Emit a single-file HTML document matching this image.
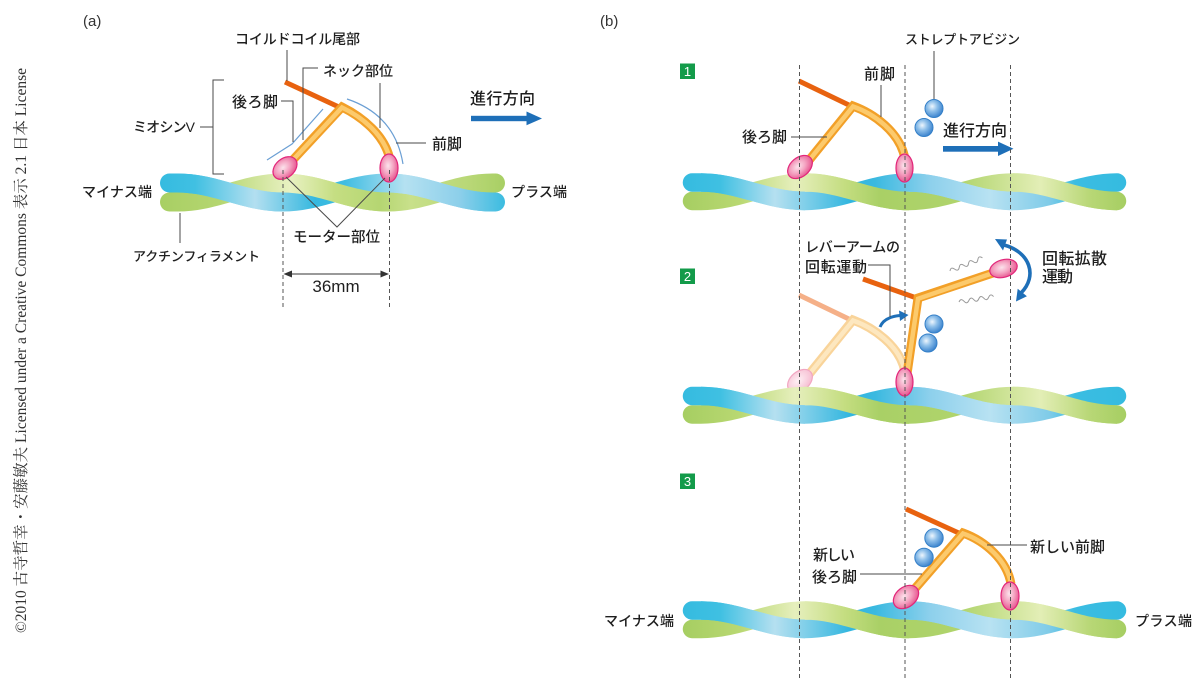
<!DOCTYPE html>
<html><head><meta charset="utf-8">
<style>
html,body{margin:0;padding:0;background:#fff;}
body{width:1200px;height:695px;overflow:hidden;}
svg{display:block;}
text{font-family:"Liberation Sans","Noto Sans CJK JP",sans-serif;fill:#1e1e1e;font-weight:500;}
.ld{stroke:#4a4a4a;stroke-width:1;fill:none;}
.ds{stroke:#555;stroke-width:1;stroke-dasharray:4 3;fill:none;}
.tail{stroke:#e8620f;stroke-width:5;fill:none;}
.armo{stroke:#f2a028;stroke-width:9;fill:none;stroke-linejoin:miter;stroke-miterlimit:10;}
.armi{stroke:#fcca6c;stroke-width:4.5;fill:none;stroke-linejoin:miter;stroke-miterlimit:10;}
.farmo{stroke:#f9d49a;stroke-width:9;fill:none;stroke-linejoin:miter;stroke-miterlimit:10;}
.farmi{stroke:#fde7bf;stroke-width:4.5;fill:none;stroke-linejoin:miter;stroke-miterlimit:10;}
.head{fill:url(#hg);stroke:#e2267a;stroke-width:1.2;}
.fhead{fill:url(#fhg);stroke:#f2a6c2;stroke-width:1.2;}
.ball{fill:url(#bg);stroke:#3580c8;stroke-width:1;}
.fb{fill:none;stroke:url(#blueB);stroke-width:18.5;stroke-linecap:round;}
.fg{fill:none;stroke:url(#greenB);stroke-width:18.5;stroke-linecap:round;}
.fbo{fill:none;stroke:url(#blueB);stroke-width:18.5;stroke-linecap:butt;}
.fgo{fill:none;stroke:url(#greenB);stroke-width:18.5;stroke-linecap:butt;}
.nl{stroke:#6b9fd4;stroke-width:1.2;fill:none;}
</style></head><body>
<svg width="1200" height="695" viewBox="0 0 1200 695" xmlns="http://www.w3.org/2000/svg">
<defs>
  <linearGradient id="blueB" gradientUnits="userSpaceOnUse" x1="683" y1="0" x2="1126" y2="0">
    <stop offset="0" stop-color="#35bbe0"/>
    <stop offset="0.0835" stop-color="#3fc0e2"/>
    <stop offset="0.2077" stop-color="#b5e0f0"/>
    <stop offset="0.377" stop-color="#32b6df"/>
    <stop offset="0.433" stop-color="#3ab9e0"/>
    <stop offset="0.5576" stop-color="#8dd0ec"/>
    <stop offset="0.693" stop-color="#b8e2f2"/>
    <stop offset="0.828" stop-color="#7fcbe8"/>
    <stop offset="0.885" stop-color="#3bbde2"/>
    <stop offset="1" stop-color="#35bbe0"/>
  </linearGradient>
  <linearGradient id="greenB" gradientUnits="userSpaceOnUse" x1="683" y1="0" x2="1126" y2="0">
    <stop offset="0" stop-color="#a6ce62"/>
    <stop offset="0.1287" stop-color="#b9d872"/>
    <stop offset="0.2528" stop-color="#e6efbd"/>
    <stop offset="0.3657" stop-color="#c4dd80"/>
    <stop offset="0.4447" stop-color="#a9d066"/>
    <stop offset="0.6253" stop-color="#b0d46c"/>
    <stop offset="0.8059" stop-color="#e3eeb6"/>
    <stop offset="0.9187" stop-color="#b8d776"/>
    <stop offset="1" stop-color="#a6ce62"/>
  </linearGradient>
  <linearGradient id="blueA" gradientUnits="userSpaceOnUse" x1="160" y1="0" x2="505" y2="0">
    <stop offset="0" stop-color="#35bbe0"/>
    <stop offset="0.101" stop-color="#40c0e2"/>
    <stop offset="0.275" stop-color="#b3dff0"/>
    <stop offset="0.449" stop-color="#35b8df"/>
    <stop offset="0.536" stop-color="#40bde2"/>
    <stop offset="0.71" stop-color="#b5e1f1"/>
    <stop offset="0.87" stop-color="#8ccfea"/>
    <stop offset="1" stop-color="#3bbce0"/>
  </linearGradient>
  <linearGradient id="greenA" gradientUnits="userSpaceOnUse" x1="160" y1="0" x2="505" y2="0">
    <stop offset="0" stop-color="#a8cf64"/>
    <stop offset="0.174" stop-color="#b5d670"/>
    <stop offset="0.377" stop-color="#e8f1c2"/>
    <stop offset="0.507" stop-color="#c5de82"/>
    <stop offset="0.638" stop-color="#b5d672"/>
    <stop offset="0.725" stop-color="#c8e08a"/>
    <stop offset="0.899" stop-color="#b8d776"/>
    <stop offset="1" stop-color="#a8cf64"/>
  </linearGradient>
  <radialGradient id="hg" cx="0.45" cy="0.42" r="0.6">
    <stop offset="0" stop-color="#fce3ec"/>
    <stop offset="0.5" stop-color="#f4a3c1"/>
    <stop offset="1" stop-color="#e6538e"/>
  </radialGradient>
  <radialGradient id="fhg" cx="0.45" cy="0.42" r="0.6">
    <stop offset="0" stop-color="#fef1f5"/>
    <stop offset="1" stop-color="#f6bcd1"/>
  </radialGradient>
  <radialGradient id="bg" cx="0.4" cy="0.38" r="0.62">
    <stop offset="0" stop-color="#eef6fd"/>
    <stop offset="0.45" stop-color="#8fc0ea"/>
    <stop offset="1" stop-color="#3f86cf"/>
  </radialGradient>
</defs>

<!-- copyright vertical text -->
<text transform="translate(26,633) rotate(-90)" style="font-family:'Liberation Serif','Noto Serif CJK SC',serif;fill:#333;font-weight:400" font-size="15.5" textLength="565" lengthAdjust="spacingAndGlyphs">©2010 古寺哲幸・安藤敏夫 Licensed under a Creative Commons 表示 2.1 日本 License</text>

<!-- ================= PANEL (a) ================= -->
<text x="83" y="26" font-size="15" style="fill:#333;font-weight:400">(a)</text>

<!-- filament a -->
<g fill="none" stroke-width="19">
<path d="M169.5,202 L177.5,202 C215.7,202 244.3,183 282.5,183 C320.7,183 349.3,202 387.5,202 C425.7,202 454.3,183 492.5,183 L495.5,183" stroke="url(#greenA)" stroke-linecap="round"/>
<path d="M169.5,183 L177.5,183 C215.7,183 244.3,202 282.5,202 C320.7,202 349.3,183 387.5,183 C425.7,183 454.3,202 492.5,202 L495.5,202" stroke="url(#blueA)" stroke-linecap="round"/>
<path d="M177.5,183 C215.7,183 244.3,202 282.5,202" stroke="url(#blueA)" stroke-linecap="butt"/>
<path d="M387.5,183 C425.7,183 454.3,202 492.5,202" stroke="url(#blueA)" stroke-linecap="butt"/>
<path d="M282.5,183 C320.7,183 349.3,202 387.5,202" stroke="url(#greenA)" stroke-linecap="butt"/>
</g>

<!-- neck blue lines -->
<polyline class="nl" points="267,160 292,144 323,109"/>
<path class="nl" d="M347,99 Q395,115 403,164"/>

<!-- molecule a -->
<line class="tail" x1="285" y1="82" x2="341" y2="108"/>
<path class="armo" d="M290,163 L342,107 C362,117 385,135 390,160"/>
<path class="armi" d="M290,163 L342,107.5 C362,117 385,135 390,160"/>
<ellipse class="head" cx="285" cy="168" rx="13.5" ry="9.5" transform="rotate(-40 285 168)"/>
<ellipse class="head" cx="389" cy="168" rx="9" ry="14"/>

<!-- leaders a -->
<line class="ld" x1="287" y1="50" x2="287" y2="81"/>
<polyline class="ld" points="318,68 303,68 303,140"/>
<line class="ld" x1="380" y1="83" x2="380" y2="128"/>
<polyline class="ld" points="281,101 293,101 293,142"/>
<line class="ld" x1="200" y1="127" x2="213" y2="127"/>
<polyline class="ld" points="224,80 213,80 213,174 224,174"/>
<line class="ld" x1="426" y1="143" x2="396" y2="143"/>
<line class="ld" x1="180" y1="213" x2="180" y2="243"/>
<polyline class="ld" points="286,177 337,227 385,178"/>

<!-- dims a -->
<line class="ds" x1="283" y1="170" x2="283" y2="310"/>
<line class="ds" x1="389.5" y1="170" x2="389.5" y2="310"/>
<line x1="289" y1="274" x2="384" y2="274" stroke="#333" stroke-width="1"/>
<polygon points="283.5,274 292,270.5 292,277.5" fill="#333"/>
<polygon points="389,274 380.5,270.5 380.5,277.5" fill="#333"/>
<text x="336" y="292" font-size="17" text-anchor="middle" style="font-weight:400">36mm</text>

<!-- labels a -->
<text x="235" y="44" font-size="14" textLength="125">コイルドコイル尾部</text>
<text x="323" y="76" font-size="14" textLength="70">ネック部位</text>
<text x="232" y="107" font-size="15" textLength="46">後ろ脚</text>
<text x="133" y="132" font-size="14" textLength="62">ミオシンV</text>
<text x="432" y="149" font-size="15" textLength="30">前脚</text>
<text x="470" y="104" font-size="16" textLength="65">進行方向</text>
<rect x="471" y="115.8" width="57" height="5.4" fill="#1e6fb8"/>
<polygon points="526.5,111.5 542,118.5 526.5,125.2" fill="#1e6fb8"/>
<text x="82" y="197" font-size="14" textLength="70">マイナス端</text>
<text x="511" y="197" font-size="14" textLength="56">プラス端</text>
<text x="133" y="261" font-size="13" textLength="127">アクチンフィラメント</text>
<text x="293" y="242" font-size="14.5" textLength="87">モーター部位</text>

<!-- ================= PANEL (b) ================= -->
<text x="600" y="26" font-size="15" style="fill:#333;font-weight:400">(b)</text>

<!-- number boxes -->
<rect x="680" y="63.5" width="15" height="15.5" fill="#139b4a"/>
<text x="687.5" y="76" font-size="13" text-anchor="middle" style="fill:#fff;font-weight:400">1</text>
<rect x="680" y="268.5" width="15" height="15.5" fill="#139b4a"/>
<text x="687.5" y="281" font-size="13" text-anchor="middle" style="fill:#fff;font-weight:400">2</text>
<rect x="680" y="473.5" width="15" height="15.5" fill="#139b4a"/>
<text x="687.5" y="486" font-size="13" text-anchor="middle" style="fill:#fff;font-weight:400">3</text>

<!-- ---- panel 1 ---- -->
<g transform="translate(0,182.5)">
  <path class="fg" d="M692,18.5 L701,18.5 C739,18.5 767,0 805,0 C843,0 871,18.5 909,18.5 C947,18.5 975,0 1013,0 C1051,0 1079,18.5 1117,18.5"/>
  <path class="fb" d="M692,0 L701,0 C739,0 767,18.5 805,18.5 C843,18.5 871,0 909,0 C947,0 975,18.5 1013,18.5 C1051,18.5 1079,0 1117,0"/>
  <path class="fbo" d="M701,0 C739,0 767,18.5 805,18.5"/>
  <path class="fbo" d="M909,0 C947,0 975,18.5 1013,18.5"/>
  <path class="fgo" d="M805,0 C843,0 871,18.5 909,18.5"/>
  <path class="fgo" d="M1013,0 C1051,0 1079,18.5 1117,18.5"/>
</g>
<line class="tail" x1="799" y1="81" x2="853" y2="107"/>
<path class="armo" d="M806,164 L853,106 C872,113 900,131 905,159"/>
<path class="armi" d="M806,164 L853,106.5 C872,113 900,131 905,159"/>
<ellipse class="head" cx="800" cy="167" rx="14" ry="9.5" transform="rotate(-40 800 167)"/>
<ellipse class="head" cx="904.5" cy="168" rx="8.5" ry="14"/>
<circle class="ball" cx="934" cy="108.5" r="9"/>
<circle class="ball" cx="924" cy="127.5" r="9"/>
<line class="ld" x1="881" y1="85" x2="881" y2="117"/>
<line class="ld" x1="791" y1="137" x2="827" y2="137"/>
<line class="ld" x1="934" y1="51" x2="934" y2="99"/>
<text x="864" y="79" font-size="15" textLength="31">前脚</text>
<text x="742" y="142" font-size="15" textLength="45">後ろ脚</text>
<text x="905" y="44" font-size="13" textLength="115">ストレプトアビジン</text>
<text x="943" y="136" font-size="16" textLength="64">進行方向</text>
<rect x="943" y="146" width="56" height="5.7" fill="#1e6fb8"/>
<polygon points="998,141.6 1013.5,148.8 998,156" fill="#1e6fb8"/>

<!-- ---- panel 2 ---- -->
<!-- faded molecule (behind filament) -->
<line x1="799" y1="295" x2="853" y2="321" stroke="#f5b088" stroke-width="5"/>
<path class="farmo" d="M806,378 L853,320 C872,327 900,345 905,372"/>
<path class="farmi" d="M806,378 L853,320.5 C872,327 900,345 905,372"/>
<ellipse class="fhead" cx="800" cy="381" rx="14" ry="9.5" transform="rotate(-40 800 381)"/>
<g transform="translate(0,396)">
  <path class="fg" d="M692,18.5 L701,18.5 C739,18.5 767,0 805,0 C843,0 871,18.5 909,18.5 C947,18.5 975,0 1013,0 C1051,0 1079,18.5 1117,18.5"/>
  <path class="fb" d="M692,0 L701,0 C739,0 767,18.5 805,18.5 C843,18.5 871,0 909,0 C947,0 975,18.5 1013,18.5 C1051,18.5 1079,0 1117,0"/>
  <path class="fbo" d="M701,0 C739,0 767,18.5 805,18.5"/>
  <path class="fbo" d="M909,0 C947,0 975,18.5 1013,18.5"/>
  <path class="fgo" d="M805,0 C843,0 871,18.5 909,18.5"/>
  <path class="fgo" d="M1013,0 C1051,0 1079,18.5 1117,18.5"/>
</g>
<!-- active molecule -->
<line class="tail" x1="863" y1="279" x2="918" y2="298.5"/>
<polyline class="armo" points="907,374 918,298 993,273"/>
<polyline class="armi" points="907,374 918,298.8 993,273"/>
<ellipse class="head" cx="1003.5" cy="268.5" rx="14" ry="8.8" transform="rotate(-16 1003.5 268.5)"/>
<ellipse class="head" cx="904.5" cy="382" rx="8.5" ry="14"/>
<circle class="ball" cx="934" cy="324" r="9"/>
<circle class="ball" cx="928" cy="343" r="9"/>
<!-- squiggles -->
<path d="M0,0 q2.5,-4 5,0 t5,0 t5,0 t5,0 t5,0 t5,0 t5,0" transform="translate(950,271) rotate(-22)" stroke="#9a9a9a" stroke-width="1" fill="none"/>
<path d="M0,0 q2.5,-4 5,0 t5,0 t5,0 t5,0 t5,0 t5,0 t5,0" transform="translate(959,302) rotate(-9)" stroke="#9a9a9a" stroke-width="1" fill="none"/>
<!-- small blue arrow -->
<path d="M880,327 Q884,317 900,315.5" stroke="#1e6fb8" stroke-width="3" fill="none"/>
<polygon points="899,310.5 908.5,315 900,321" fill="#1e6fb8"/>
<!-- big blue arrow -->
<path d="M1004,245 C1030,252 1038,276 1021,293" stroke="#1e6fb8" stroke-width="3.6" fill="none"/>
<polygon points="995,239 1003,250.5 1007,239.5" fill="#1e6fb8"/>
<polygon points="1016,301.5 1026.9,296.3 1017.7,288.7" fill="#1e6fb8"/>
<!-- labels 2 -->
<polyline class="ld" points="868,265 890,265 890,317"/>
<text x="805" y="252" font-size="14" textLength="95">レバーアームの</text>
<text x="805" y="272" font-size="15" textLength="62">回転運動</text>
<text x="1042" y="264" font-size="16" textLength="65">回転拡散</text>
<text x="1042" y="282" font-size="16" textLength="31">運動</text>

<!-- ---- panel 3 ---- -->
<g transform="translate(0,610.5)">
  <path class="fg" d="M692,18.5 L701,18.5 C739,18.5 767,0 805,0 C843,0 871,18.5 909,18.5 C947,18.5 975,0 1013,0 C1051,0 1079,18.5 1117,18.5"/>
  <path class="fb" d="M692,0 L701,0 C739,0 767,18.5 805,18.5 C843,18.5 871,0 909,0 C947,0 975,18.5 1013,18.5 C1051,18.5 1079,0 1117,0"/>
  <path class="fbo" d="M701,0 C739,0 767,18.5 805,18.5"/>
  <path class="fbo" d="M909,0 C947,0 975,18.5 1013,18.5"/>
  <path class="fgo" d="M805,0 C843,0 871,18.5 909,18.5"/>
  <path class="fgo" d="M1013,0 C1051,0 1079,18.5 1117,18.5"/>
</g>
<line class="tail" x1="906" y1="509" x2="961" y2="534"/>
<path class="armo" d="M912,592 L963,533 C985,541 1007,560 1011,584"/>
<path class="armi" d="M912,592 L963,533.5 C985,541 1007,560 1011,584"/>
<ellipse class="head" cx="906" cy="597" rx="14" ry="10" transform="rotate(-38 906 597)"/>
<ellipse class="head" cx="1010" cy="596" rx="9" ry="14"/>
<circle class="ball" cx="934" cy="538" r="9.2"/>
<circle class="ball" cx="924" cy="557.5" r="9.2"/>
<line class="ld" x1="987" y1="545" x2="1027" y2="545"/>
<line class="ld" x1="860" y1="574" x2="922" y2="574"/>
<text x="1030" y="552" font-size="15" textLength="75">新しい前脚</text>
<text x="813" y="560" font-size="15" textLength="42">新しい</text>
<text x="812" y="582" font-size="15" textLength="45">後ろ脚</text>
<text x="604" y="626" font-size="14" textLength="70">マイナス端</text>
<text x="1135" y="626" font-size="14" textLength="57">プラス端</text>

<!-- dashed verticals b -->
<line class="ds" x1="799.5" y1="65" x2="799.5" y2="680"/>
<line class="ds" x1="905" y1="65" x2="905" y2="680"/>
<line class="ds" x1="1010.5" y1="65" x2="1010.5" y2="680"/>
</svg>
</body></html>
